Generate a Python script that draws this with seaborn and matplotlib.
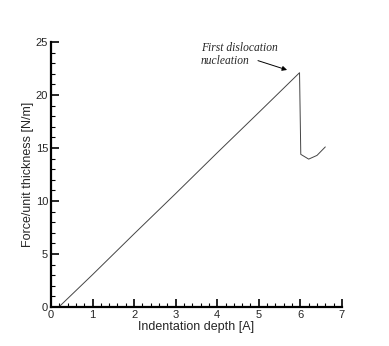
"""
Force vs indentation depth curve
"""
import pandas as pd
import matplotlib.pyplot as plt
import seaborn as sns
from matplotlib.ticker import MultipleLocator

# indentation data
depth = [0.19, 1.0, 2.0, 3.0, 4.0, 5.0, 5.98, 6.01, 6.2, 6.4, 6.6]
force = [0.0, 3.05, 6.9, 10.7, 14.55, 18.35, 22.1, 14.4, 13.95, 14.3, 15.1]

df = pd.DataFrame({'depth': depth, 'force': force})

sns.set_style('ticks')
plt.rcParams['font.family'] = ['Liberation Sans', 'DejaVu Sans']

fig = plt.figure(figsize=(3.89, 3.46), dpi=100)
ax = fig.add_axes([0.131, 0.1127, 0.748, 0.766])

sns.lineplot(data=df, x='depth', y='force', ax=ax, color='#444444',
             linewidth=0.7, sort=False)

ax.set_xlim(0, 7)
ax.set_ylim(0, 25)
ax.xaxis.set_major_locator(MultipleLocator(1))
ax.xaxis.set_minor_locator(MultipleLocator(0.2))
ax.yaxis.set_major_locator(MultipleLocator(5))
ax.yaxis.set_minor_locator(MultipleLocator(1))
ax.tick_params(which='major', direction='in', length=6, width=1.2,
               labelsize=8, pad=2, color='black')
ax.tick_params(which='minor', direction='in', length=3, width=0.8,
               color='black')

for side in ['top', 'right']:
    ax.spines[side].set_visible(False)
for side in ['left', 'bottom']:
    ax.spines[side].set_linewidth(1.6)
    ax.spines[side].set_color('black')

ax.set_xlabel('Indentation depth [A]', fontsize=9, labelpad=1)
ax.set_ylabel('Force/unit thickness [N/m]', fontsize=9, labelpad=1)

# annotation text, two lines placed separately
note_kw = dict(fontsize=8.3, style='italic', family=['Liberation Serif'],
               ha='left', va='baseline')
ax.text(3.6, 24.12, 'First dislocation', **note_kw)
ax.text(3.6, 22.92, 'nucleation', **note_kw)
ax.annotate('', xy=(5.68, 22.36), xytext=(4.98, 23.24),
            arrowprops=dict(arrowstyle='-|>', color='black', lw=0.7,
                            shrinkA=0, shrinkB=0, mutation_scale=7))

plt.savefig('out.png', dpi=100)
